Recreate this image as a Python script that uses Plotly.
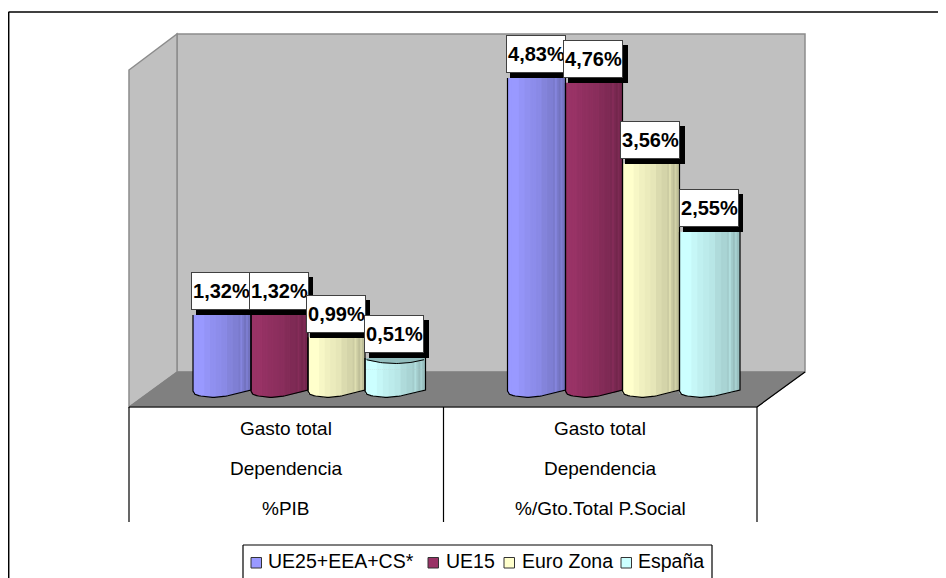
import numpy as np
import plotly.graph_objects as go

# ---- data ----
group_lines = [["Gasto total", "Dependencia", "%PIB"], ["Gasto total", "Dependencia", "%/Gto.Total P.Social"]]
series_names = ["UE25+EEA+CS*", "UE15", "Euro Zona", "España"]
ue25 = [1.32, 4.83]
ue15 = [1.32, 4.76]
euro = [0.99, 3.56]
espana = [0.51, 2.55]
series_values = [ue25, ue15, euro, espana]
base_colors = ["#9999FF", "#993366", "#FFFFCC", "#CCFFFF"]
value_text = lambda v: f"{v:.2f}%".replace(".", ",")

# ---- layout geometry (window pixels; the page body has an 8 px margin) ----
OX, OY = 8, 8
W, H = 938, 570
px_x0, px_group = 309.5, 314.5   # pixel of category 0, pixels per category
px_y0, px_unit = 404.0, 67.5     # pixel of value 0, pixels per value unit
def ax(px): return (px - px_x0) / px_group
def ay(py): return (px_y0 - py) / px_unit
def X(px): return (px - OX) / W
def Y(py): return 1 - (py - OY) / H
def path(pts):
    return "M " + " L ".join(f"{X(a):.5f},{Y(b):.5f}" for a, b in pts) + " Z"

bar_left = [-116.5, -58.5, -1.5, 55.5]
bar_width = [58, 57, 57, 60.5]
N = 30
OVER = 1.6  # stripes overlap so no seams show between them
bands = [1, 1, .97, .94, .92, .90, .86, .83, .80, .75]
prof_t = [0, .02, .08, .3, .5, .7, .9, 1]
prof_y = [391, 394, 395.5, 397.5, 397, 394.5, 392, 390]

def shade(c, f):
    r, g, b = int(c[1:3], 16), int(c[3:5], 16), int(c[5:7], 16)
    return f"rgb({min(r*f,255):.0f},{min(g*f,255):.0f},{min(b*f,255):.0f})"

def stripe_shade(i, t):
    f = bands[min(int(t * 10), 9)]
    return f + .07 if i in (25, 28) else f

def stripe_x(g, s, t):
    # keep the overlapped stripes inside the bar's own edges
    half = (OVER - 1) * bar_width[s] / N / 2
    return g + (bar_left[s] + half * (1 - 2 * t) + t * bar_width[s]) / px_group

fig = go.Figure()
line_traces = []
annotations = []
ts = (np.arange(N) + .5) / N
short_top = 358          # pixel of the top rim of the short España bar
for s, vals in enumerate(series_values):
    xs, ys, bases, cols, wid = [], [], [], [], []
    for g, v in enumerate(vals):
        w = bar_width[s]
        lp = bar_left[s]
        for i, t in enumerate(ts):
            xs.append(stripe_x(g, s, t))
            b = ay(np.interp(t, prof_t, prof_y))
            bases.append(b)
            ys.append(v - b)
            cols.append(shade(base_colors[s], stripe_shade(i, t)))
            wid.append(w / N * OVER / px_group)
        top = ay(short_top) if (s == 3 and g == 0) else v
        lx = [g + lp / px_group] * 2
        ly = [top, ay(prof_y[0])]
        tt = np.linspace(0, 1, 31)
        lx += [g + (lp + t * w) / px_group for t in tt]
        ly += [ay(np.interp(t, prof_t, prof_y)) for t in tt]
        lx += [g + (lp + w) / px_group]
        ly += [top]
        line_traces.append(go.Scatter(x=lx, y=ly, mode="lines", line=dict(color="black", width=1.2),
                                      showlegend=False, hoverinfo="skip"))
    fig.add_trace(go.Bar(x=xs, y=ys, base=bases, width=wid, marker=dict(color=cols, line=dict(width=0)),
                         name=series_names[s], showlegend=False, hoverinfo="skip"))

# top face of the short España bar, visible below its label
s, g, v = 3, 0, espana[0]
capx = [stripe_x(g, s, t) for t in ts]
rim_px = [359.5 + 4.0 * (1 - abs(2 * t - 1) ** 2) for t in ts]
sw = [bar_width[s] / N * OVER / px_group] * N
fig.add_trace(go.Bar(x=capx, y=[ay(r) - v for r in rim_px], base=[v] * N, width=sw,
                     marker=dict(color=[shade(base_colors[s], stripe_shade(i, t)) for i, t in enumerate(ts)],
                                 line=dict(width=0)), showlegend=False, hoverinfo="skip"))
fig.add_trace(go.Bar(x=capx, y=[ay(short_top) - ay(r) for r in rim_px], base=[ay(r) for r in rim_px], width=sw,
                     marker=dict(color="#93BDBD", line=dict(width=0)), showlegend=False, hoverinfo="skip"))
for tr in line_traces:
    fig.add_trace(tr)
fig.add_trace(go.Scatter(x=capx, y=[ay(r) for r in rim_px], mode="lines",
                         line=dict(color="black", width=1), showlegend=False, hoverinfo="skip"))

# value labels with drop shadow
for g in range(2):
    for s, vals in enumerate(series_values):
        v = vals[g]
        extra = 12 if (s == 3 and g == 0) else 0
        cx = g + (bar_left[s] + bar_width[s] / 2) / px_group
        common = dict(x=cx, y=v, xref="x", yref="y", showarrow=False, width=58, height=36,
                      xanchor="center", yanchor="middle", borderpad=0)
        annotations.append(dict(text=" ", bgcolor="black", borderwidth=1, bordercolor="black",
                                xshift=3.5, yshift=18.5 + extra, **common))
        annotations.append(dict(text=f"<b>{value_text(v)}</b>", bgcolor="white", borderwidth=1,
                                bordercolor="#404040", xshift=-1, yshift=23.5 + extra, align="right",
                                font=dict(family="Liberation Sans", size=20, color="black"), **common))

# category table text
line_y = [428, 468.5, 508.5]
for cx, lines in zip([286, 600], group_lines):
    for ly, txt in zip(line_y, lines):
        annotations.append(dict(text=txt, x=X(cx), y=Y(ly), xref="paper", yref="paper", showarrow=False,
                                xanchor="center", yanchor="middle",
                                font=dict(family="Liberation Sans", size=19, color="black")))

# legend text
for tx, name in zip([268, 445.5, 521.5, 638], series_names):
    annotations.append(dict(text=name, x=X(tx), y=Y(561), xref="paper", yref="paper", showarrow=False,
                            xanchor="left", yanchor="middle", xshift=-2,
                            font=dict(family="Liberation Sans", size=19.5, color="black")))

shapes = []
def add_line(x0, y0, x1, y1, color="black", width=1.2):
    shapes.append(dict(type="line", xref="paper", yref="paper", x0=X(x0), y0=Y(y0), x1=X(x1), y1=Y(y1),
                       line=dict(color=color, width=width), layer="below"))

# outer frame
add_line(8.5, 12, 946, 12, width=1.5)
add_line(8.7, 12, 8.7, 578, width=1.5)
# walls and floor
shapes.append(dict(type="path", xref="paper", yref="paper", layer="below", fillcolor="#C0C0C0",
                   path=path([(177, 34), (805, 34), (805, 372), (177, 372)]),
                   line=dict(color="#8C8C8C", width=1.5)))
shapes.append(dict(type="path", xref="paper", yref="paper", layer="below", fillcolor="#C0C0C0",
                   path=path([(129, 70), (177, 34), (177, 372), (129, 407)]),
                   line=dict(color="#8C8C8C", width=1.5)))
shapes.append(dict(type="path", xref="paper", yref="paper", layer="below", fillcolor="#808080",
                   path=path([(129, 407), (177, 372), (805, 372), (757, 407)]),
                   line=dict(color="#808080", width=1)))
add_line(757, 407, 805, 372)
add_line(129, 407, 757, 407)
for x in [129, 443.5, 757]:
    add_line(x, 407, x, 522)
# legend box
add_line(243, 545, 712, 545)
add_line(243, 545, 243, 578)
add_line(712, 545, 712, 578)
for sx, c in zip([251, 428, 504, 621], base_colors):
    shapes.append(dict(type="rect", xref="paper", yref="paper", layer="below", fillcolor=c,
                       x0=X(sx), x1=X(sx + 10.5), y0=Y(568), y1=Y(557.5), line=dict(color="#333333", width=1)))

fig.update_layout(
    width=W, height=H, margin=dict(l=0, r=0, t=0, b=0), autosize=False,
    paper_bgcolor="white", plot_bgcolor="rgba(0,0,0,0)",
    barmode="overlay", showlegend=False, shapes=shapes, annotations=annotations,
    xaxis=dict(range=[ax(OX), ax(OX + W)], visible=False, fixedrange=True),
    yaxis=dict(range=[ay(OY + H), ay(OY)], visible=False, fixedrange=True),
)
fig.write_html("out.html")
